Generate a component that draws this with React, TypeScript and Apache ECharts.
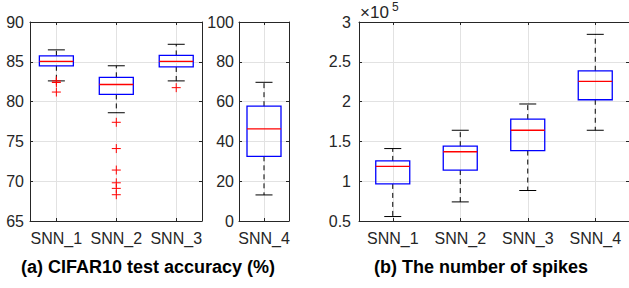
import React, { useEffect, useRef } from "react";
import * as echarts from "echarts";

// ---- Data ----
const accCategories = ["SNN_1", "SNN_2", "SNN_3"];
const accLow = [82.6, 78.6, 82.6];
const accQ1 = [84.5, 80.9, 84.35];
const accMedian = [85.05, 82.15, 85.05];
const accQ3 = [85.75, 83.05, 85.8];
const accHigh = [86.5, 84.5, 87.2];
const accOutliers1 = [82.6, 82.4, 81.2];
const accOutliers2 = [77.4, 74.1, 71.4, 69.8, 69.1, 68.3];
const accOutliers3 = [81.75];

const acc4Category = ["SNN_4"];
const acc4Low = [13.1];
const acc4Q1 = [32.5];
const acc4Median = [46.3];
const acc4Q3 = [57.7];
const acc4High = [69.7];

const spikeCategories = ["SNN_1", "SNN_2", "SNN_3", "SNN_4"];
const spikeLow = [55600, 74000, 88300, 164000];
const spikeQ1 = [96600, 114000, 138500, 202300];
const spikeMedian = [118500, 137000, 164000, 225400];
const spikeQ3 = [125500, 144000, 178000, 238700];
const spikeHigh = [141000, 164000, 197000, 284500];

const accTicks = [65, 70, 75, 80, 85, 90];
const acc4Ticks = [0, 20, 40, 60, 80, 100];
const spikeTicks = [50000, 100000, 150000, 200000, 250000, 300000];

const titleA = "(a) CIFAR10 test accuracy (%)";
const titleB = "(b) The number of spikes";

// ---- Styling ----
const FONT = "Liberation Sans, Arial, sans-serif";
const AX = "#262626";
const GRIDC = "#e2e2e2";
const BOX_W = 34;
const CAP_W = 17;

function boxRows(low: number[], q1: number[], med: number[], q3: number[], high: number[]) {
  return low.map((_, i) => [i + 1, low[i], q1[i], med[i], q3[i], high[i]]);
}

function outlierRows(groups: number[][]) {
  const rows: number[][] = [];
  groups.forEach((g, i) => g.forEach((v) => rows.push([i + 1, v])));
  return rows;
}

const renderBox = (params: any, api: any) => {
  const x = api.value(0);
  const pLo = api.coord([x, api.value(1)]);
  const pQ1 = api.coord([x, api.value(2)]);
  const pMed = api.coord([x, api.value(3)]);
  const pQ3 = api.coord([x, api.value(4)]);
  const pHi = api.coord([x, api.value(5)]);
  const cx = pLo[0];
  const hw = BOX_W / 2;
  const cw = CAP_W / 2;
  const dash = { stroke: "#000", lineWidth: 1, lineDash: [5, 4], fill: "none" };
  const solid = { stroke: "#000", lineWidth: 1, fill: "none" };
  return {
    type: "group",
    children: [
      { type: "line", shape: { x1: cx, y1: pQ3[1], x2: cx, y2: pHi[1] }, style: dash },
      { type: "line", shape: { x1: cx, y1: pQ1[1], x2: cx, y2: pLo[1] }, style: dash },
      { type: "line", shape: { x1: cx - cw, y1: pHi[1], x2: cx + cw, y2: pHi[1] }, style: solid },
      { type: "line", shape: { x1: cx - cw, y1: pLo[1], x2: cx + cw, y2: pLo[1] }, style: solid },
      {
        type: "rect",
        shape: { x: cx - hw, y: pQ3[1], width: BOX_W, height: pQ1[1] - pQ3[1] },
        style: { fill: "none", stroke: "#0000ff", lineWidth: 1.3 },
      },
      {
        type: "line",
        shape: { x1: cx - hw, y1: pMed[1], x2: cx + hw, y2: pMed[1] },
        style: { stroke: "#ff0000", lineWidth: 1.3 },
      },
    ],
  };
};

const renderPlus = (params: any, api: any) => {
  const p = api.coord([api.value(0), api.value(1)]);
  const s = 4.5;
  const st = { stroke: "#ff0000", lineWidth: 1, fill: "none" };
  return {
    type: "group",
    children: [
      { type: "line", shape: { x1: p[0] - s, y1: p[1], x2: p[0] + s, y2: p[1] }, style: st },
      { type: "line", shape: { x1: p[0], y1: p[1] - s, x2: p[0], y2: p[1] + s }, style: st },
    ],
  };
};

function xAxes(gridIndex: number, names: string[], min: number, max: number) {
  const vals = names.map((_, i) => i + 1);
  const common = {
    type: "value",
    gridIndex,
    min,
    max,
    axisLine: { show: true, onZero: false, lineStyle: { color: AX, width: 1 } },
    axisTick: { show: true, inside: true, length: 3, customValues: vals, lineStyle: { color: AX } },
  };
  return [
    {
      ...common,
      position: "bottom",
      axisLabel: {
        show: true,
        customValues: vals,
        formatter: (v: number) => names[Math.round(v) - 1] ?? "",
        fontSize: 16,
        fontFamily: FONT,
        color: AX,
        margin: 9,
      },
      splitLine: { show: true, lineStyle: { color: GRIDC, width: 1 } },
    },
    {
      ...common,
      position: "top",
      axisLabel: { show: false },
      splitLine: { show: false },
    },
  ];
}

function yAxes(gridIndex: number, ticks: number[], fmt: (v: number) => string, margin: number) {
  const min = ticks[0];
  const max = ticks[ticks.length - 1];
  const interval = ticks[1] - ticks[0];
  const common = {
    type: "value",
    gridIndex,
    min,
    max,
    interval,
    axisLine: { show: true, onZero: false, lineStyle: { color: AX, width: 1 } },
    axisTick: { show: true, inside: true, length: 3, lineStyle: { color: AX } },
  };
  return [
    {
      ...common,
      position: "left",
      axisLabel: { show: true, formatter: fmt, fontSize: 16, fontFamily: FONT, color: AX, margin },
      splitLine: { show: true, lineStyle: { color: GRIDC, width: 1 } },
    },
    {
      ...common,
      position: "right",
      axisLabel: { show: false },
      splitLine: { show: false },
    },
  ];
}

export default function App() {
  const ref = useRef<HTMLDivElement>(null);

  useEffect(() => {
    if (!ref.current) return;
    const chart = echarts.init(ref.current, undefined, { renderer: "svg" });

    const grid = [
      { left: 30, top: 22, width: 172, height: 199 },
      { left: 239, top: 22, width: 50, height: 199 },
      { left: 359, top: 22, width: 272, height: 199 },
    ];

    const xAxis = [
      ...xAxes(0, accCategories, 0.56, 3.43),
      ...xAxes(1, acc4Category, 0.5, 1.5),
      ...xAxes(2, spikeCategories, 0.5, 4.5),
    ];
    const yAxis = [
      ...yAxes(0, accTicks, (v) => String(v), 6),
      ...yAxes(1, acc4Ticks, (v) => String(v), 5),
      ...yAxes(2, spikeTicks, (v) => String(Math.round((v / 100000) * 10) / 10), 8),
    ];

    const series: any[] = [
      {
        type: "custom",
        xAxisIndex: 0,
        yAxisIndex: 0,
        renderItem: renderBox,
        data: boxRows(accLow, accQ1, accMedian, accQ3, accHigh),
        encode: { x: 0, y: [1, 2, 3, 4, 5] },
        z: 3,
      },
      {
        type: "custom",
        xAxisIndex: 0,
        yAxisIndex: 0,
        renderItem: renderPlus,
        data: outlierRows([accOutliers1, accOutliers2, accOutliers3]),
        encode: { x: 0, y: 1 },
        z: 4,
      },
      {
        type: "custom",
        xAxisIndex: 2,
        yAxisIndex: 2,
        renderItem: renderBox,
        data: boxRows(acc4Low, acc4Q1, acc4Median, acc4Q3, acc4High),
        encode: { x: 0, y: [1, 2, 3, 4, 5] },
        z: 3,
      },
      {
        type: "custom",
        xAxisIndex: 4,
        yAxisIndex: 4,
        renderItem: renderBox,
        data: boxRows(spikeLow, spikeQ1, spikeMedian, spikeQ3, spikeHigh),
        encode: { x: 0, y: [1, 2, 3, 4, 5] },
        z: 3,
      },
    ];

    chart.setOption({
      animation: false,
      backgroundColor: "#ffffff",
      grid,
      xAxis,
      yAxis,
      series,
      graphic: [
        {
          type: "text",
          x: 148,
          y: 267,
          style: {
            text: titleA,
            font: `bold 18px ${FONT}`,
            fill: "#000",
            align: "center",
            verticalAlign: "middle",
            textAlign: "center",
            textVerticalAlign: "middle",
          },
        },
        {
          type: "text",
          x: 481,
          y: 267,
          style: {
            text: titleB,
            font: `bold 18px ${FONT}`,
            fill: "#000",
            align: "center",
            verticalAlign: "middle",
            textAlign: "center",
            textVerticalAlign: "middle",
          },
        },
        {
          type: "text",
          x: 360,
          y: 12,
          style: {
            text: "×10",
            font: `17px ${FONT}`,
            fill: AX,
            align: "left",
            verticalAlign: "middle",
            textAlign: "left",
            textVerticalAlign: "middle",
          },
        },
        {
          type: "text",
          x: 392,
          y: 7,
          style: {
            text: "5",
            font: `12px ${FONT}`,
            fill: AX,
            align: "left",
            verticalAlign: "middle",
            textAlign: "left",
            textVerticalAlign: "middle",
          },
        },
      ],
    });

    return () => chart.dispose();
  }, []);

  return (
    <div
      ref={ref}
      style={{ position: "fixed", left: 0, top: 0, width: 629, height: 288, background: "#fff" }}
    />
  );
}
